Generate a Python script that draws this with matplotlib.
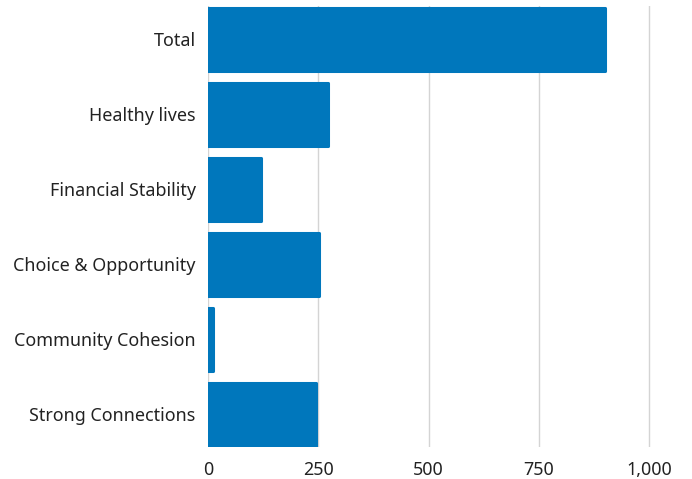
import numpy as np
from matplotlib import pyplot as plt
from matplotlib.ticker import FuncFormatter

#Data
categories = ['Total', 'Healthy lives', 'Financial Stability', 'Choice & Opportunity',
              'Community Cohesion', 'Strong Connections']
values = [900, 272, 120, 252, 12, 245]

plt.rcParams['font.family'] = ['Noto Sans', 'DejaVu Sans']

fig = plt.figure(figsize=(6.92, 4.79), dpi=100)
ax = fig.add_axes([208/692, 32/479, 472/692, 441/479])

ypos = np.arange(len(categories))
#thick edge with round joins gives the rounded bar ends (left side is clipped at 0)
ax.barh(ypos, values, height=0.84, color='#0077BC', edgecolor='#0077BC',
        linewidth=2.2, joinstyle='round', zorder=3)

ax.set_xlim(0, 1070)
ax.set_ylim(len(categories) - 0.56, -0.44)
ax.set_xticks([0, 250, 500, 750, 1000])
ax.xaxis.set_major_formatter(FuncFormatter(lambda v, p: '{:,.0f}'.format(v)))
ax.set_yticks(ypos)
ax.set_yticklabels(categories)

ax.grid(axis='x', color='#d4d4d4', linewidth=1, zorder=0)
for s in ax.spines.values():
    s.set_visible(False)
ax.tick_params(axis='both', length=0, labelsize=12.9, colors='#222222')
ax.tick_params(axis='x', pad=10)
ax.tick_params(axis='y', pad=9)

fig.savefig('out.png', dpi=100)
